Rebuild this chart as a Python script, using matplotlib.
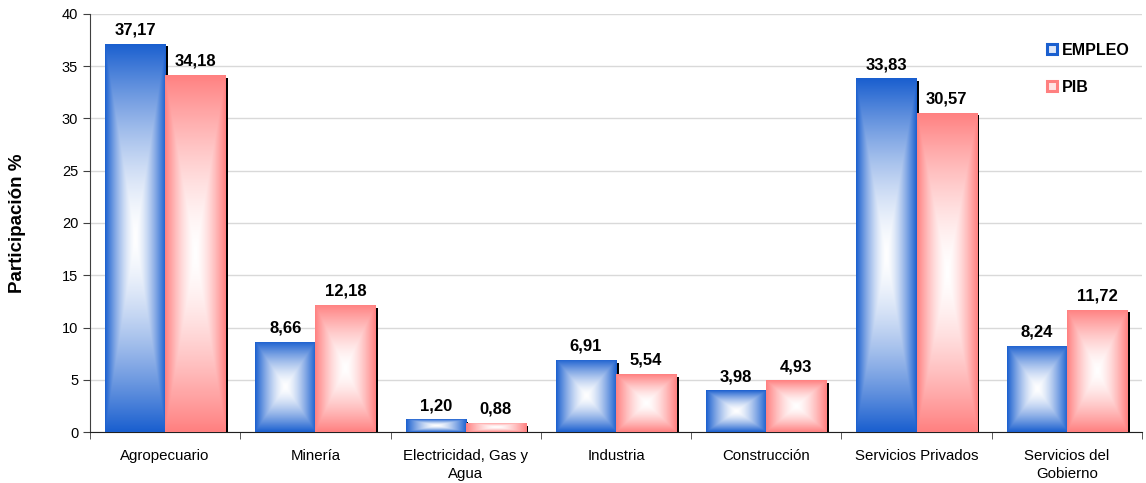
import numpy as np
import matplotlib
matplotlib.use('Agg')
import matplotlib.pyplot as plt
from matplotlib.colors import to_rgb

plt.rcParams['font.family'] = ['Liberation Sans', 'DejaVu Sans']

categories = ['Agropecuario', 'Minería', 'Electricidad, Gas y\nAgua', 'Industria',
              'Construcción', 'Servicios Privados', 'Servicios del\nGobierno']
empleo = [37.17, 8.66, 1.20, 6.91, 3.98, 33.83, 8.24]
pib = [34.18, 12.18, 0.88, 5.54, 4.93, 30.57, 11.72]

blue = '#1a5fcf'
pink = '#ff8080'


def rect_gradient(color, n=200):
    # concentric rectangle fill: solid colour on the edges, white in the middle
    u = np.linspace(-1, 1, n)
    xx, yy = np.meshgrid(u, u)
    t = np.maximum(np.abs(xx), np.abs(yy)) ** 1.5
    c = np.array(to_rgb(color))
    img = 1 - t[..., None] * (1 - c)
    return img


fig = plt.figure(figsize=(11.46, 4.83), dpi=100)
ax = fig.add_axes([90 / 1146, 51 / 483, 1052 / 1146, 418 / 483])

x = np.arange(len(categories))
w = 0.4

# drop shadows behind the bars
for xs, vals in [(x - w / 2, empleo), (x + w / 2, pib)]:
    ax.bar(xs + 0.017, np.array(vals) - 0.28, width=w, color='black', zorder=2)

for xs, vals, col in [(x - w / 2, empleo, blue), (x + w / 2, pib, pink)]:
    bars = ax.bar(xs, vals, width=w, color=col, zorder=3)
    img = rect_gradient(col)
    for b, v in zip(bars, vals):
        x0, y0 = b.get_x(), b.get_y()
        im = ax.imshow(img, extent=[x0, x0 + b.get_width(), y0, y0 + b.get_height()],
                       aspect='auto', zorder=3.5, interpolation='bilinear')
        im.set_clip_path(b)
        ax.text(b.get_x() + b.get_width() / 2, v + 0.6, f'{v:.2f}'.replace('.', ','),
                ha='center', va='bottom', fontsize=12, fontweight='bold', zorder=5)

ax.set_xlim(-0.5, len(categories) - 0.5)
ax.set_ylim(0, 40)
ax.set_yticks(np.arange(0, 41, 5))
ax.yaxis.grid(True, color='#d9d9d9', linewidth=1)
ax.set_axisbelow(True)

ax.set_xticks(x)
ax.set_xticklabels(categories, fontsize=10.8, linespacing=1.4)
ax.set_xticks(np.arange(-0.5, len(categories), 1), minor=True)
ax.tick_params(axis='x', which='major', length=0, pad=12)
ax.tick_params(axis='x', which='minor', length=5, color='#404040')
ax.tick_params(axis='y', labelsize=10.5, length=5, color='#404040')

for s in ['top', 'right']:
    ax.spines[s].set_visible(False)
ax.spines['left'].set_color('#404040')
ax.spines['bottom'].set_color('#202020')

ax.set_ylabel('Participación %', fontsize=13.5, fontweight='bold', labelpad=26)

# legend
h1 = plt.Line2D([], [], marker='s', linestyle='none', markersize=7.5,
                markerfacecolor='#dde6f8', markeredgecolor=blue, markeredgewidth=2.2)
h2 = plt.Line2D([], [], marker='s', linestyle='none', markersize=7.5,
                markerfacecolor='#ffe4e4', markeredgecolor=pink, markeredgewidth=2.2)
ax.legend([h1, h2], ['EMPLEO', 'PIB'], loc='upper left', bbox_to_anchor=(0.894, 0.965),
          frameon=False, prop={'weight': 'bold', 'size': 11.5}, handletextpad=0.15,
          labelspacing=1.35, handlelength=0.9)

fig.savefig('out.png', dpi=100)
